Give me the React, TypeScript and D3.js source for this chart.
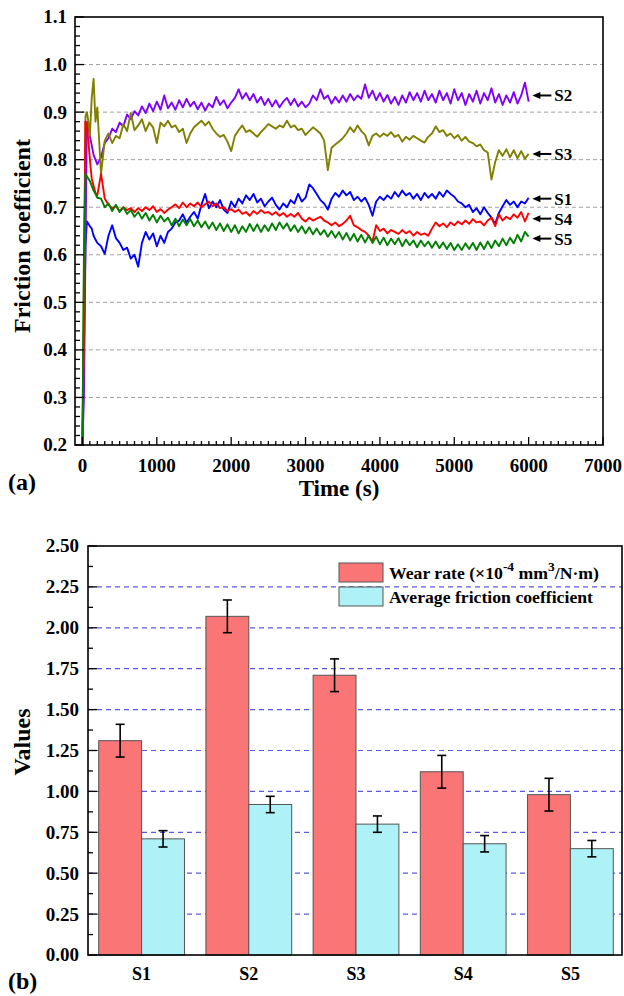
import React from "react";
import * as d3 from "d3";

const FONT = '"Liberation Serif", "Times New Roman", Times, serif';

// ---------- (a) friction coefficient vs time ----------
const T_EARLY = [0, 20, 40, 60, 80, 100, 125, 150, 175, 200];
const T_MAIN = d3.range(250, 6001, 50);
const TIME = [...T_EARLY, ...T_MAIN];

const S1 = [
  0.20, 0.40, 0.62, 0.67, 0.665, 0.66, 0.655, 0.64, 0.632, 0.625,
  0.618, 0.602, 0.640, 0.662, 0.635, 0.625, 0.610, 0.615, 0.592, 0.600,
  0.575, 0.625, 0.648, 0.632, 0.645, 0.618, 0.640, 0.625, 0.648, 0.655,
  0.668, 0.672, 0.685, 0.668, 0.680, 0.690, 0.676, 0.705, 0.728, 0.698,
  0.712, 0.700, 0.715, 0.695, 0.688, 0.712, 0.700, 0.718, 0.708, 0.725,
  0.715, 0.728, 0.710, 0.718, 0.702, 0.712, 0.720, 0.705, 0.695, 0.708,
  0.700, 0.715, 0.708, 0.728, 0.712, 0.720, 0.748, 0.740, 0.728, 0.715,
  0.708, 0.695, 0.718, 0.730, 0.722, 0.735, 0.725, 0.732, 0.715, 0.722,
  0.712, 0.720, 0.705, 0.682, 0.712, 0.722, 0.715, 0.725, 0.718, 0.732,
  0.722, 0.735, 0.725, 0.730, 0.718, 0.728, 0.715, 0.730, 0.720, 0.728,
  0.718, 0.732, 0.722, 0.735, 0.728, 0.722, 0.712, 0.708, 0.700, 0.705,
  0.690, 0.698, 0.685, 0.700, 0.688, 0.678, 0.665, 0.688, 0.702, 0.715,
  0.705, 0.712, 0.700, 0.712, 0.708, 0.720,
];

const S2 = [
  0.20, 0.30, 0.60, 0.88, 0.87, 0.85, 0.83, 0.81, 0.80, 0.79,
  0.805, 0.835, 0.845, 0.865, 0.858, 0.878, 0.870, 0.895, 0.885, 0.902,
  0.893, 0.912, 0.898, 0.918, 0.902, 0.922, 0.905, 0.935, 0.908, 0.920,
  0.905, 0.925, 0.910, 0.928, 0.912, 0.922, 0.906, 0.920, 0.903, 0.918,
  0.910, 0.932, 0.915, 0.925, 0.908, 0.920, 0.930, 0.948, 0.928, 0.940,
  0.925, 0.938, 0.920, 0.932, 0.915, 0.928, 0.912, 0.925, 0.910, 0.922,
  0.930, 0.915, 0.928, 0.912, 0.922, 0.910, 0.918, 0.935, 0.925, 0.948,
  0.928, 0.935, 0.918, 0.932, 0.920, 0.935, 0.922, 0.938, 0.925, 0.935,
  0.928, 0.958, 0.930, 0.945, 0.925, 0.940, 0.922, 0.936, 0.918, 0.932,
  0.915, 0.935, 0.920, 0.942, 0.925, 0.940, 0.922, 0.945, 0.925, 0.938,
  0.920, 0.945, 0.925, 0.940, 0.918, 0.948, 0.925, 0.940, 0.915, 0.938,
  0.922, 0.945, 0.918, 0.940, 0.925, 0.950, 0.920, 0.938, 0.915, 0.935,
  0.920, 0.942, 0.918, 0.935, 0.962, 0.922,
];

const S3 = [
  0.20, 0.55, 0.89, 0.90, 0.88, 0.85, 0.93, 0.97, 0.88, 0.91,
  0.770, 0.840, 0.855, 0.835, 0.850, 0.845, 0.875, 0.860, 0.898, 0.862,
  0.872, 0.885, 0.860, 0.878, 0.868, 0.835, 0.878, 0.870, 0.882, 0.868,
  0.872, 0.858, 0.865, 0.835, 0.855, 0.868, 0.875, 0.882, 0.872, 0.880,
  0.865, 0.855, 0.848, 0.852, 0.838, 0.818, 0.850, 0.862, 0.872, 0.858,
  0.862, 0.855, 0.848, 0.858, 0.866, 0.875, 0.870, 0.865, 0.872, 0.868,
  0.882, 0.868, 0.872, 0.862, 0.865, 0.852, 0.860, 0.868, 0.862, 0.855,
  0.840, 0.778, 0.825, 0.832, 0.838, 0.845, 0.855, 0.868, 0.858, 0.872,
  0.860, 0.852, 0.830, 0.850, 0.855, 0.848, 0.855, 0.850, 0.858, 0.848,
  0.852, 0.838, 0.848, 0.842, 0.850, 0.845, 0.840, 0.836, 0.848, 0.855,
  0.870, 0.858, 0.862, 0.850, 0.855, 0.845, 0.852, 0.840, 0.848, 0.838,
  0.835, 0.828, 0.832, 0.820, 0.815, 0.758, 0.795, 0.820, 0.808, 0.822,
  0.805, 0.820, 0.803, 0.818, 0.802, 0.812,
];

const S4 = [
  0.20, 0.45, 0.88, 0.87, 0.84, 0.80, 0.76, 0.745, 0.73, 0.725,
  0.770, 0.718, 0.705, 0.698, 0.702, 0.692, 0.700, 0.694, 0.698, 0.690,
  0.698, 0.692, 0.700, 0.694, 0.702, 0.690, 0.696, 0.688, 0.695, 0.700,
  0.706, 0.698, 0.710, 0.700, 0.708, 0.702, 0.710, 0.700, 0.706, 0.712,
  0.702, 0.708, 0.698, 0.700, 0.692, 0.696, 0.690, 0.695, 0.686, 0.690,
  0.682, 0.692, 0.686, 0.694, 0.688, 0.690, 0.684, 0.690, 0.682, 0.688,
  0.680, 0.686, 0.680, 0.688, 0.676, 0.670, 0.678, 0.672, 0.676, 0.680,
  0.672, 0.668, 0.662, 0.668, 0.660, 0.665, 0.672, 0.682, 0.662, 0.658,
  0.652, 0.648, 0.640, 0.628, 0.662, 0.650, 0.655, 0.645, 0.652, 0.648,
  0.644, 0.652, 0.645, 0.650, 0.640, 0.648, 0.642, 0.645, 0.640, 0.655,
  0.668, 0.660, 0.666, 0.658, 0.668, 0.662, 0.670, 0.664, 0.672, 0.665,
  0.675, 0.668, 0.670, 0.662, 0.672, 0.678, 0.660, 0.685, 0.672, 0.680,
  0.675, 0.685, 0.678, 0.690, 0.670, 0.688,
];

const S5 = [
  0.20, 0.60, 0.77, 0.765, 0.76, 0.755, 0.745, 0.735, 0.728, 0.72,
  0.718, 0.700, 0.708, 0.692, 0.705, 0.690, 0.700, 0.686, 0.694, 0.680,
  0.690, 0.676, 0.688, 0.672, 0.684, 0.668, 0.682, 0.670, 0.678, 0.662,
  0.676, 0.660, 0.674, 0.662, 0.675, 0.660, 0.672, 0.658, 0.670, 0.655,
  0.668, 0.652, 0.666, 0.650, 0.664, 0.648, 0.662, 0.645, 0.660, 0.648,
  0.665, 0.650, 0.664, 0.648, 0.662, 0.650, 0.666, 0.652, 0.668, 0.655,
  0.666, 0.650, 0.662, 0.648, 0.660, 0.645, 0.658, 0.643, 0.655, 0.642,
  0.652, 0.638, 0.650, 0.636, 0.648, 0.632, 0.646, 0.630, 0.644, 0.628,
  0.642, 0.626, 0.640, 0.625, 0.638, 0.622, 0.636, 0.620, 0.634, 0.622,
  0.635, 0.618, 0.632, 0.620, 0.630, 0.616, 0.630, 0.618, 0.628, 0.615,
  0.628, 0.614, 0.626, 0.612, 0.625, 0.610, 0.622, 0.610, 0.624, 0.612,
  0.625, 0.610, 0.626, 0.612, 0.628, 0.614, 0.630, 0.618, 0.634, 0.620,
  0.636, 0.624, 0.642, 0.628, 0.648, 0.638,
];

const SERIES_NAMES = ["S1", "S2", "S3", "S4", "S5"];
const SERIES_COLORS = ["#0000ff", "#8000ff", "#808000", "#ff0000", "#008000"];
const SERIES_VALUES = [S1, S2, S3, S4, S5];
// end-of-line annotation levels (friction coefficient units)
const LABEL_LEVELS = [0.718, 0.935, 0.812, 0.676, 0.634];

// ---------- (b) wear rate & average friction ----------
const CATS = ["S1", "S2", "S3", "S4", "S5"];
const WEAR = [1.31, 2.07, 1.71, 1.12, 0.98];
const WEAR_ERR = [0.1, 0.1, 0.1, 0.1, 0.1];
const FRIC = [0.71, 0.92, 0.8, 0.68, 0.65];
const FRIC_ERR = [0.05, 0.05, 0.05, 0.05, 0.05];
const B_TICKS = [0, 0.25, 0.5, 0.75, 1.0, 1.25, 1.5, 1.75, 2.0, 2.25, 2.5];

export default function App() {
  // panel (a)
  const A = { l: 75, r: 603, t: 17, b: 445 };
  const xA = d3.scaleLinear().domain([-100, 7000]).range([A.l, A.r]);
  const yA = d3.scaleLinear().domain([0.2, 1.1]).range([A.b, A.t]);
  const yAMajor = yA.ticks(9);
  const yAMinor = d3.range(0, 46).map((i) => 0.2 + i * 0.02);
  const xAMajor = d3.range(0, 7001, 1000);
  const xAMinor = d3.range(0, 7001, 100);
  const lineGen = d3
    .line<number>()
    .x((_, i) => xA(TIME[i]))
    .y((d) => yA(d));

  // panel (b)
  const B = { l: 88, r: 622, t: 546, b: 955 };
  const xB = d3.scaleBand<string>().domain(CATS).range([88, 624]).paddingInner(0.2).paddingOuter(0.1);
  const xSub = d3.scaleBand<string>().domain(["wear", "fric"]).range([0, xB.bandwidth()]);
  const yB = d3.scaleLinear().domain([0, 2.5]).range([B.b, B.t]);
  const yBMinor = d3.range(0, 21).map((i) => i * 0.125);
  const fmtA = d3.format(".1f");
  const fmtB = d3.format(".2f");

  const wearColor = "#fa7676";
  const fricColor = "#aef2f8";

  const errBar = (cx: number, v: number, e: number, key: string) => (
    <g key={key} stroke="#000" strokeWidth={1.6}>
      <line x1={cx} x2={cx} y1={yB(v + e)} y2={yB(v - e)} />
      <line x1={cx - 4.5} x2={cx + 4.5} y1={yB(v + e)} y2={yB(v + e)} />
      <line x1={cx - 4.5} x2={cx + 4.5} y1={yB(v - e)} y2={yB(v - e)} />
    </g>
  );

  return (
    <svg
      width={624}
      height={996}
      style={{ position: "absolute", left: 0, top: 0, background: "#fff", fontFamily: FONT, fontWeight: 700 }}
    >
      <defs>
        <clipPath id="clipA">
          <rect x={A.l} y={A.t} width={A.r - A.l} height={A.b - A.t} />
        </clipPath>
      </defs>

      {/* ===== Panel (a) ===== */}
      {yAMajor
        .filter((v) => v > 0.25 && v < 1.05)
        .map((v) => (
          <line key={"ga" + v} x1={A.l} x2={A.r} y1={yA(v)} y2={yA(v)} stroke="#a0a0a0" strokeWidth={1} strokeDasharray="4,3" />
        ))}
      <g clipPath="url(#clipA)">
        {SERIES_VALUES.map((vals, i) => (
          <path key={SERIES_NAMES[i]} d={lineGen(vals) || ""} fill="none" stroke={SERIES_COLORS[i]} strokeWidth={1.9} strokeLinejoin="round" />
        ))}
      </g>
      <rect x={A.l} y={A.t} width={A.r - A.l} height={A.b - A.t} fill="none" stroke="#000" strokeWidth={1.6} />
      {yAMinor.map((v, i) => (
        <line key={"yam" + i} x1={A.l} x2={A.l + (i % 5 === 0 ? 9 : 5)} y1={yA(v)} y2={yA(v)} stroke="#000" strokeWidth={1.3} />
      ))}
      {xAMinor.map((v) => (
        <line key={"xam" + v} x1={xA(v)} x2={xA(v)} y1={A.b} y2={A.b - (v % 1000 === 0 ? 8 : 4)} stroke="#000" strokeWidth={1.3} />
      ))}
      {yAMajor.map((v) => (
        <text key={"yal" + v} x={67} y={yA(v)} dy="0.34em" textAnchor="end" fontSize={19}>
          {fmtA(v)}
        </text>
      ))}
      {xAMajor.map((v) => (
        <text key={"xal" + v} x={xA(v)} y={472} textAnchor="middle" fontSize={19}>
          {v}
        </text>
      ))}
      <text x={(A.l + A.r) / 2} y={496} textAnchor="middle" fontSize={23}>
        Time (s)
      </text>
      <text transform={`translate(30,${236}) rotate(-90)`} textAnchor="middle" fontSize={24}>
        Friction coefficient
      </text>
      <text x={8} y={490} fontSize={24}>
        (a)
      </text>
      {SERIES_NAMES.map((n, i) => {
        const y = yA(LABEL_LEVELS[i]);
        const xt = xA(6050);
        return (
          <g key={"lab" + n}>
            <line x1={xt + 4} x2={xt + 19} y1={y} y2={y} stroke="#000" strokeWidth={2} />
            <path d={`M${xt},${y} L${xt + 8},${y - 3.5} L${xt + 8},${y + 3.5} Z`} fill="#000" />
            <text x={xt + 22} y={y} dy="0.35em" fontSize={17}>
              {n}
            </text>
          </g>
        );
      })}

      {/* ===== Panel (b) ===== */}
      {B_TICKS
        .filter((v) => v > 0.1 && v < 2.4)
        .map((v) => (
          <line key={"gb" + v} x1={B.l} x2={B.r} y1={yB(v)} y2={yB(v)} stroke="#5a5ae0" strokeWidth={1.2} strokeDasharray="5,4" />
        ))}
      {CATS.map((c, i) => {
        const x0 = xB(c) || 0;
        return (
          <g key={"bar" + c}>
            <rect x={x0 + (xSub("wear") || 0)} y={yB(WEAR[i])} width={xSub.bandwidth()} height={yB(0) - yB(WEAR[i])} fill={wearColor} stroke="#555" strokeWidth={1} />
            <rect x={x0 + (xSub("fric") || 0)} y={yB(FRIC[i])} width={xSub.bandwidth()} height={yB(0) - yB(FRIC[i])} fill={fricColor} stroke="#555" strokeWidth={1} />
            {errBar(x0 + (xSub("wear") || 0) + xSub.bandwidth() / 2, WEAR[i], WEAR_ERR[i], "ew" + c)}
            {errBar(x0 + (xSub("fric") || 0) + xSub.bandwidth() / 2, FRIC[i], FRIC_ERR[i], "ef" + c)}
            <text x={x0 + xB.bandwidth() / 2} y={980} textAnchor="middle" fontSize={18}>
              {c}
            </text>
          </g>
        );
      })}
      <rect x={B.l} y={B.t} width={B.r - B.l} height={B.b - B.t} fill="none" stroke="#000" strokeWidth={1.6} />
      {yBMinor.map((v, i) => (
        <line key={"ybm" + i} x1={B.l} x2={B.l + (i % 2 === 0 ? 9 : 5)} y1={yB(v)} y2={yB(v)} stroke="#000" strokeWidth={1.3} />
      ))}
      {B_TICKS.map((v) => (
        <text key={"ybl" + v} x={79} y={yB(v)} dy="0.34em" textAnchor="end" fontSize={19}>
          {fmtB(v)}
        </text>
      ))}
      <text transform={`translate(30,${742}) rotate(-90)`} textAnchor="middle" fontSize={24}>
        Values
      </text>
      <text x={8} y={989} fontSize={24}>
        (b)
      </text>

      {/* legend */}
      <rect x={339} y={563} width={44} height={19} fill={wearColor} stroke="#555" strokeWidth={1} />
      <rect x={339} y={587} width={44} height={19} fill={fricColor} stroke="#555" strokeWidth={1} />
      <text x={389} y={579} fontSize={17.7}>
        Wear rate (×10
        <tspan dy={-8} fontSize={13.5}>-4</tspan>
        <tspan dy={8}> mm</tspan>
        <tspan dy={-8} fontSize={13.5}>3</tspan>
        <tspan dy={8}>/N·m)</tspan>
      </text>
      <text x={389} y={603} fontSize={17.7}>
        Average friction coefficient
      </text>
    </svg>
  );
}
